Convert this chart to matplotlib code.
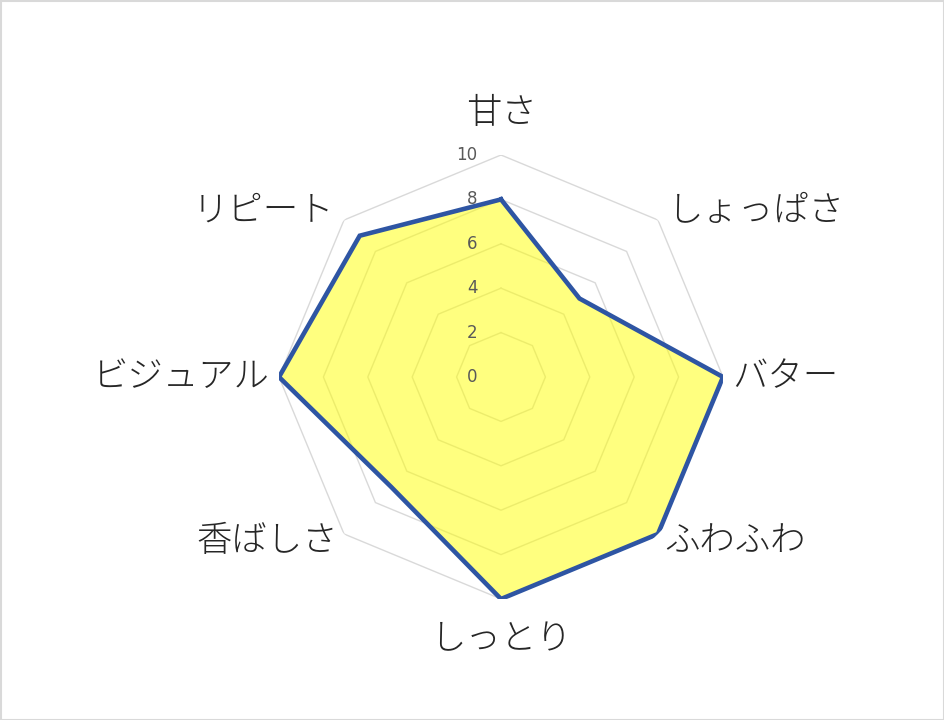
import numpy as np
import matplotlib
matplotlib.use("Agg")
import matplotlib.pyplot as plt
from matplotlib.patches import Rectangle

plt.rcParams['font.family'] = ['Noto Sans CJK JP', 'DejaVu Sans']

categories = ["甘さ", "しょっぱさ", "バター", "ふわふわ", "しっとり", "香ばしさ", "ビジュアル", "リピート"]
values = [8, 5, 10, 10, 10, 7, 10, 9]
ticks = [0, 2, 4, 6, 8, 10]
tick_labels = ["0", "2", "4", "6", "8", "10"]

W, H = 945, 720
fig = plt.figure(figsize=(W / 100, H / 100), dpi=100)
cx, cy, R = 501, 377, 222
ax = fig.add_axes([(cx - R) / W, (H - cy - R) / H, 2 * R / W, 2 * R / H], projection='polar')
ax.set_theta_offset(np.pi / 2)
ax.set_theta_direction(-1)
ax.set_ylim(0, 10)
ax.grid(False)
ax.spines['polar'].set_visible(False)
ax.set_xticks([])
ax.set_yticks([])
ax.patch.set_alpha(0)

n = len(categories)
angles = np.arange(n) * 2 * np.pi / n
ang_c = np.concatenate([angles, angles[:1]])

for t in ticks[1:]:
    ax.plot(ang_c, [t] * (n + 1), color='#D9D9D9', lw=1.0, zorder=1)

vals_c = values + values[:1]
ax.fill(ang_c, vals_c, color='#FFFF00', alpha=0.5, zorder=2, lw=0)
ax.plot(ang_c, vals_c, color='#2E55A3', lw=3.3, zorder=3, solid_joinstyle='miter')

for t, lab in zip(ticks, tick_labels):
    ax.annotate(lab, xy=(0, t), xytext=(-17, 0), textcoords='offset points',
                ha='right', va='center', fontsize=12, color='#595959',
                family=['DejaVu Sans'], zorder=4)

label_pos = [
    (11.9, 'center', 'center'),
    (10.6, 'left', 'center'),
    (10.4, 'left', 'center'),
    (10.4, 'left', 'center'),
    (11.8, 'center', 'center'),
    (10.4, 'right', 'center'),
    (10.4, 'right', 'center'),
    (10.6, 'right', 'center'),
]
for a, lab, (r, ha, va) in zip(angles, categories, label_pos):
    ax.text(a, r, lab, ha=ha, va=va, fontsize=25.5, color='#262626', fontweight='light')

fig.add_artist(Rectangle((0.5 / W, 0.5 / H), 1 - 1.5 / W, 1 - 1.5 / H, transform=fig.transFigure,
                         fill=False, edgecolor='#D9D9D9', lw=1.5))

fig.savefig('out.png', dpi=100)
